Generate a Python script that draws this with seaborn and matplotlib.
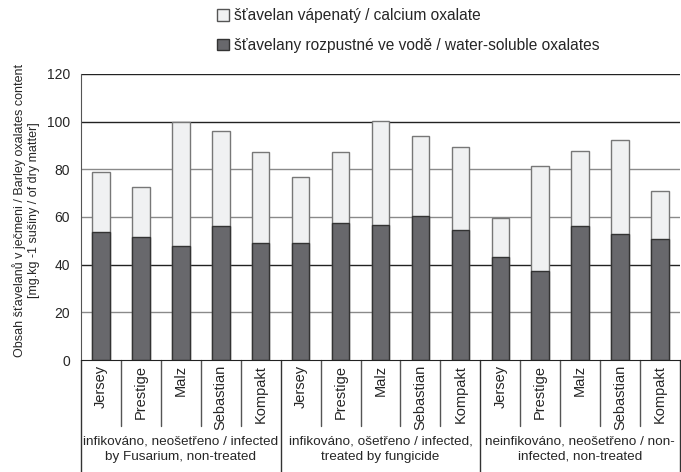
import matplotlib

matplotlib.use("Agg")
import matplotlib.pyplot as plt
import pandas as pd
import seaborn as sns
from matplotlib.patches import Patch

# --------------------------------------------------------------------- #
# Data
# --------------------------------------------------------------------- #
CULTIVARS = ["Jersey", "Prestige", "Malz", "Sebastian", "Kompakt"]
GROUPS = [
    "infikováno, neošetřeno / infected\nby Fusarium, non-treated",
    "infikováno, ošetřeno / infected,\ntreated by fungicide",
    "neinfikováno, neošetřeno / non-\ninfected, non-treated",
]
# total oxalates (soluble + calcium) and water-soluble part
TOTAL = [78.7, 72.6, 99.7, 95.9, 87.1,
         76.9, 87.1, 100.3, 93.8, 89.5,
         59.7, 81.4, 87.6, 92.2, 71.1]
SOLUBLE = [53.6, 51.6, 48.0, 56.4, 49.2,
           49.2, 57.4, 56.7, 60.4, 54.5,
           43.4, 37.3, 56.2, 52.7, 50.6]

LEG_CALCIUM = "šťavelan vápenatý / calcium oxalate"
LEG_SOLUBLE = "šťavelany rozpustné ve vodě / water-soluble oxalates"
YLABEL = ("Obsah šťavelanů v ječmeni / Barley oxalates content\n"
          "[mg.kg -1 sušiny / of dry matter]")

DARK = "#68686c"
LIGHT = "#f0f1f2"

df = pd.DataFrame({
    "bar": [str(i) for i in range(len(TOTAL))],
    "cultivar": CULTIVARS * len(GROUPS),
    "total": TOTAL,
    "soluble": SOLUBLE,
})

sns.set_style("white")
plt.rcParams["font.family"] = ["Liberation Sans", "DejaVu Sans"]

fig = plt.figure(figsize=(6.81, 4.72), dpi=100)
ax = fig.add_axes([81 / 681, 112 / 472, 599 / 681, 286 / 472])

sns.barplot(data=df, x="bar", y="total", color=LIGHT, width=0.44,
            edgecolor="#777777", linewidth=1.0, saturation=1, ax=ax)
sns.barplot(data=df, x="bar", y="soluble", color=DARK, width=0.44,
            edgecolor="#333333", linewidth=1.0, saturation=1, ax=ax)

ax.set_ylim(0, 120)
ax.set_xlim(-0.5, len(TOTAL) - 0.5)
ax.set_yticks(range(0, 121, 20))
ax.tick_params(axis="y", labelsize=10, length=5, color="#333333", pad=3)
ax.set_xticks([])
ax.set_xlabel("")
ax.set_ylabel("")
fig.text(26 / 681, 1 - 210 / 472, YLABEL, rotation=90, ha="center",
         va="center", fontsize=9.0, linespacing=1.2)

for v in range(20, 121, 20):
    c = "#222222" if v in (40, 100, 120) else "#8a8a8a"
    ax.axhline(v, color=c, lw=1.0, zorder=0)

for s in ["top", "right"]:
    ax.spines[s].set_visible(False)
ax.spines["left"].set_color("#555555")
ax.spines["bottom"].set_color("#222222")

# category table below the axis
n = len(TOTAL)
trans = ax.get_xaxis_transform()
for i in range(n + 1):
    x = i - 0.5
    if i % len(CULTIVARS) == 0:
        y_end = -112 / 286
        col = "#333333"
    else:
        y_end = -66 / 286
        col = "#555555"
    ax.plot([x, x], [0, y_end], transform=trans, color=col, lw=1.0,
            clip_on=False)
for i, name in enumerate(df["cultivar"]):
    ax.text(i, -5 / 286, name, transform=trans, rotation=90, ha="center",
            va="top", fontsize=10.5)
for g, label in enumerate(GROUPS):
    xc = g * len(CULTIVARS) + (len(CULTIVARS) - 1) / 2
    ax.text(xc, -76 / 286, label, transform=trans, ha="center", va="top",
            fontsize=9.7, linespacing=1.3)

handles = [Patch(facecolor=LIGHT, edgecolor="#555555", label=LEG_CALCIUM),
           Patch(facecolor=DARK, edgecolor="#333333", label=LEG_SOLUBLE)]
fig.legend(handles=handles, loc="upper left", bbox_to_anchor=(203 / 681, 1.012),
           frameon=False, fontsize=11.2, handlelength=0.75, handleheight=0.75,
           handletextpad=0.35, labelspacing=0.95)

fig.savefig("out.png", dpi=100)
